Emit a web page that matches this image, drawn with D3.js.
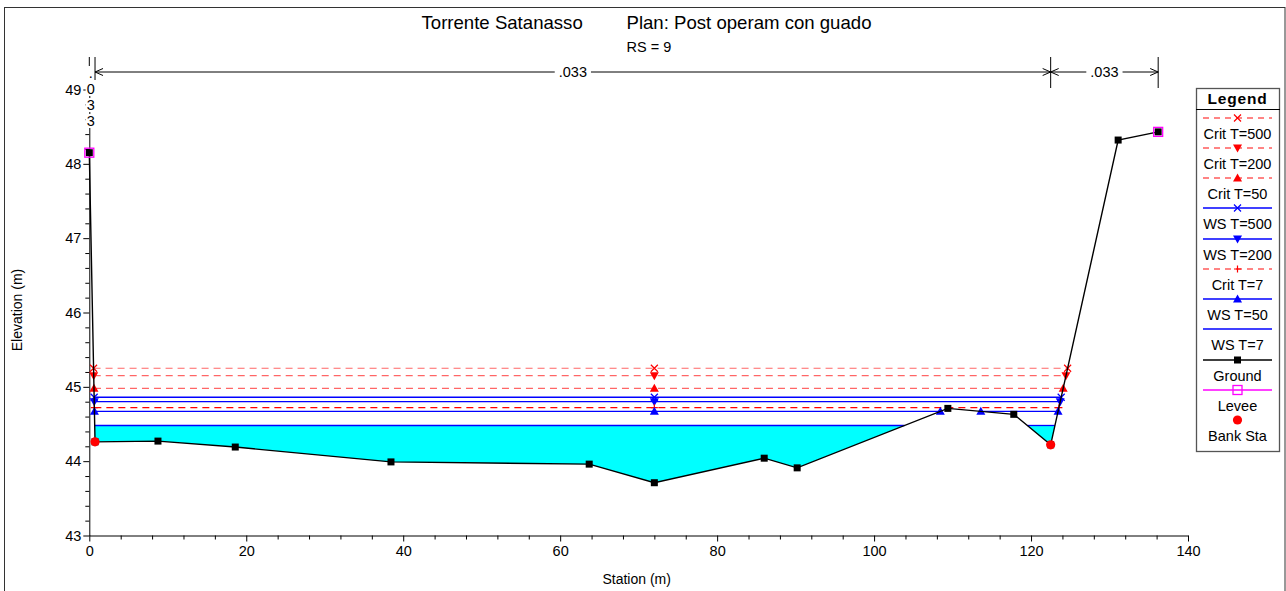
<!DOCTYPE html>
<html>
<head>
<meta charset="utf-8">
<script src="https://cdn.jsdelivr.net/npm/d3@7"></script>
<style>
  body { margin: 0; background: #fff; }
  svg { display: block; font-family: "Liberation Sans", Arial, sans-serif; }
</style>
</head>
<body>
<svg id="chart" width="1286" height="591"></svg>
<script>
// ---------------- DATA ----------------
const groundSta  = [0, 0.73, 8.75, 18.6, 38.44, 63.7, 72.0, 86.0, 90.2, 109.4, 117.8, 122.5, 131.1, 136.2];
const groundElev = [48.15, 44.26, 44.27, 44.19, 43.99, 43.96, 43.71, 44.04, 43.91, 44.71, 44.63, 44.22, 48.32, 48.43];

const leveeSta  = [0, 136.2];
const leveeElev = [48.15, 48.43];

const bankSta  = [0.73, 122.5];
const bankElev = [44.26, 44.22];

const profileNames  = ["Crit T=500", "Crit T=200", "Crit T=50", "WS T=500", "WS T=200", "Crit T=7", "WS T=50", "WS T=7"];
const profileLevels = [45.25, 45.15, 44.98, 44.86, 44.80, 44.72, 44.67, 44.48];
const profileKinds  = ["crit", "crit", "crit", "ws", "ws", "crit", "ws", "ws"];
const profileMarks  = ["x", "tdown", "tup", "x", "tdown", "plus", "tup", "none"];

const manningBreaks = [0, 0.73, 122.5, 136.2];
const manningValues = [".033", ".033", ".033"];

const xTicks = [0, 20, 40, 60, 80, 100, 120, 140];
const yTicks = [43, 44, 45, 46, 47, 48, 49];

const titleLeft  = "Torrente Satanasso";
const titleRight = "Plan: Post operam con guado";
const subTitle   = "RS = 9";
const xLabel = "Station (m)";
const yLabel = "Elevation (m)";

// ---------------- SETUP ----------------
const svg = d3.select("#chart");
const x = d3.scaleLinear().domain([0, 140]).range([89.3, 1188]);
const y = d3.scaleLinear().domain([43, 49]).range([535.5, 89.5]);

const RED = "#ff0000", BLUE = "#0000ff", MAG = "#ff00ff", CYAN = "#00ffff";

// outer frame
svg.append("rect").attr("x", 4.5).attr("y", 7.5).attr("width", 1280.5).attr("height", 590)
  .attr("fill", "none").attr("stroke", "#333").attr("stroke-width", 1);

// titles
svg.append("text").attr("x", 421.5).attr("y", 29).attr("font-size", 18.6).text(titleLeft);
svg.append("text").attr("x", 626.5).attr("y", 29).attr("font-size", 18.6).text(titleRight);
svg.append("text").attr("x", 626.5).attr("y", 52).attr("font-size", 14.5).text(subTitle);

// ground helpers
const ground = groundSta.map((s, i) => ({ s, e: groundElev[i] }));
function groundAt(s) {
  for (let i = 0; i < ground.length - 1; i++) {
    const a = ground[i], b = ground[i + 1];
    if (s >= a.s && s <= b.s) return a.e + (b.e - a.e) * (s - a.s) / (b.s - a.s);
  }
  return ground[ground.length - 1].e;
}
function segmentsAt(level) {
  const segs = [];
  let start = null;
  if (ground[0].e < level) start = ground[0].s;
  for (let i = 0; i < ground.length - 1; i++) {
    const a = ground[i], b = ground[i + 1];
    if (a.e >= level && b.e < level) {
      start = a.s + (level - a.e) / (b.e - a.e) * (b.s - a.s);
    } else if (a.e < level && b.e >= level) {
      const end = a.s + (level - a.e) / (b.e - a.e) * (b.s - a.s);
      segs.push([start, end]);
      start = null;
    }
  }
  return segs;
}
const thalwegSta = ground.reduce((m, p) => p.e < m.e ? p : m, ground[0]).s;

// ---------------- FILL (lowest water surface) ----------------
const fillLevel = profileLevels[profileLevels.length - 1];
const fillSegs = segmentsAt(fillLevel);
const fillPts = [];
const fs0 = fillSegs[0][0], fs1 = fillSegs[fillSegs.length - 1][1];
fillSegs.forEach(sg => { fillPts.push(sg[0], sg[1]); });
ground.forEach(p => { if (p.s > fs0 && p.s < fs1) fillPts.push(p.s); });
fillPts.sort((a, b) => a - b);
const area = d3.area()
  .x(d => x(d))
  .y0(d => y(groundAt(d)))
  .y1(d => y(Math.max(groundAt(d), fillLevel)));
svg.append("path").datum(fillPts).attr("d", area).attr("fill", CYAN).attr("stroke", "none");

// ---------------- AXES ----------------
const xMinor = d3.range(0, 141, 4).filter(v => v % 20 !== 0);
const yMinor = d3.range(43, 49.0001, 0.2).map(v => +v.toFixed(1)).filter(v => Math.abs(v - Math.round(v)) > 0.01);

svg.append("g").attr("transform", `translate(0,${y(43)})`)
  .call(d3.axisBottom(x).tickValues(xTicks).tickSize(6).tickSizeOuter(0).tickPadding(4).tickFormat(d3.format("d")));
svg.append("g").attr("transform", `translate(0,${y(43)})`)
  .call(d3.axisBottom(x).tickValues(xMinor).tickSize(4).tickSizeOuter(0).tickFormat(""))
  .select(".domain").remove();
svg.append("g").attr("transform", `translate(${x(0)},0)`)
  .call(d3.axisLeft(y).tickValues(yTicks).tickSize(6).tickSizeOuter(0).tickPadding(2).tickFormat(d3.format("d")));
svg.append("g").attr("transform", `translate(${x(0)},0)`)
  .call(d3.axisLeft(y).tickValues(yMinor).tickSize(4).tickSizeOuter(0).tickFormat(""))
  .select(".domain").remove();
svg.selectAll(".tick text").attr("font-size", 14.5).attr("fill", "#000")
  .attr("font-family", "'Liberation Sans', Arial, sans-serif");
svg.selectAll(".domain, .tick line").attr("stroke", "#000");

// axis titles
svg.append("text").attr("x", x(70) - 2).attr("y", 584).attr("text-anchor", "middle")
  .attr("font-size", 14).text(xLabel);
svg.append("text").attr("transform", "translate(22,310) rotate(-90)").attr("text-anchor", "middle")
  .attr("font-size", 14).text(yLabel);

// ---------------- MARKERS ----------------
function drawMarker(g, kind, cx, cy, color) {
  const s = 3.5;
  if (kind === "x") {
    g.append("path").attr("d", `M${cx - s},${cy - s}L${cx + s},${cy + s}M${cx - s},${cy + s}L${cx + s},${cy - s}`)
      .attr("stroke", color).attr("stroke-width", 1.2).attr("fill", "none");
  } else if (kind === "plus") {
    g.append("path").attr("d", `M${cx - s},${cy}L${cx + s},${cy}M${cx},${cy - s}L${cx},${cy + s}`)
      .attr("stroke", color).attr("stroke-width", 1.2).attr("fill", "none");
  } else if (kind === "tup") {
    g.append("path").attr("d", `M${cx - 4.5},${cy + 3.5}L${cx + 4.5},${cy + 3.5}L${cx},${cy - 4.5}Z`).attr("fill", color);
  } else if (kind === "tdown") {
    g.append("path").attr("d", `M${cx - 4.5},${cy - 3.5}L${cx + 4.5},${cy - 3.5}L${cx},${cy + 4.5}Z`).attr("fill", color);
  } else if (kind === "sq") {
    g.append("rect").attr("x", cx - 3.5).attr("y", cy - 3.5).attr("width", 7).attr("height", 7).attr("fill", "#000");
  } else if (kind === "osq") {
    g.append("rect").attr("x", cx - 4.5).attr("y", cy - 4.5).attr("width", 9).attr("height", 9)
      .attr("fill", "none").attr("stroke", MAG).attr("stroke-width", 1.3);
  } else if (kind === "dot") {
    g.append("circle").attr("cx", cx).attr("cy", cy).attr("r", 4.6).attr("fill", RED);
  }
}

// ---------------- PROFILE LINES ----------------
const gLines = svg.append("g");
const gMarks = svg.append("g");
profileLevels.forEach((lvl, i) => {
  const crit = profileKinds[i] === "crit";
  const color = crit ? RED : BLUE;
  const segs = segmentsAt(lvl);
  segs.forEach(sg => {
    gLines.append("line").attr("x1", x(sg[0])).attr("x2", x(sg[1])).attr("y1", y(lvl)).attr("y2", y(lvl))
      .attr("stroke", color).attr("stroke-width", crit ? 1.2 : 1.3)
      .attr("stroke-dasharray", crit ? "7,5" : null)
      .attr("stroke-opacity", crit && i < 3 ? 0.6 : 1);
  });
  if (profileMarks[i] !== "none") {
    const pts = [thalwegSta];
    segs.forEach(sg => pts.push(sg[0], sg[1]));
    pts.forEach(s => drawMarker(gMarks, profileMarks[i], x(s), y(lvl), color));
  }
});

// ---------------- GROUND ----------------
const line = d3.line().x(d => x(d.s)).y(d => y(d.e));
svg.append("path").datum(ground).attr("d", line).attr("fill", "none").attr("stroke", "#000").attr("stroke-width", 1.4);
const gGround = svg.append("g");
ground.forEach(p => drawMarker(gGround, "sq", x(p.s), y(p.e)));
leveeSta.forEach((s, i) => drawMarker(gGround, "osq", x(s), y(leveeElev[i])));
bankSta.forEach((s, i) => drawMarker(gGround, "dot", x(s), y(bankElev[i])));

// ---------------- MANNING N BRACKETS ----------------
const gN = svg.append("g");
const nY = 72, nTop = 57, nBot = 88;
manningBreaks.forEach(s => {
  gN.append("line").attr("x1", x(s)).attr("x2", x(s)).attr("y1", nTop).attr("y2", s === 0 || s === manningBreaks[1] ? 80 : nBot)
    .attr("stroke", "#000").attr("stroke-width", 1);
});
function whiteText(g, tx, ty, str) {
  const t = g.append("text").attr("x", tx).attr("y", ty).attr("text-anchor", "middle").attr("font-size", 14.5).text(str);
  const bb = t.node().getBBox();
  g.insert("rect", () => t.node()).attr("x", bb.x - 1).attr("y", bb.y + 1).attr("width", bb.width + 2).attr("height", bb.height - 2).attr("fill", "#fff");
  return bb;
}
manningValues.forEach((v, i) => {
  const a = x(manningBreaks[i]), b = x(manningBreaks[i + 1]);
  const mid = (a + b) / 2;
  if (b - a < 40) {
    // too narrow: stacked characters
    v.split("").forEach((ch, k) => whiteText(gN, mid - 1.5, 78 + k * 16, ch));
  } else {
    gN.append("path").attr("d",
      `M${a},${nY}L${b},${nY}M${a + 8},${nY - 3.5}L${a},${nY}L${a + 8},${nY + 3.5}M${b - 8},${nY - 3.5}L${b},${nY}L${b - 8},${nY + 3.5}`)
      .attr("fill", "none").attr("stroke", "#000").attr("stroke-width", 1);
    const t = gN.append("text").attr("x", mid).attr("y", nY + 5).attr("text-anchor", "middle").attr("font-size", 14.5).text(v);
    const bb = t.node().getBBox();
    gN.insert("rect", () => t.node()).attr("x", bb.x - 4).attr("y", nY - 3).attr("width", bb.width + 8).attr("height", 6).attr("fill", "#fff");
  }
});

// ---------------- LEGEND ----------------
const lg = svg.append("g");
const lx0 = 1196, lx1 = 1279, ly0 = 88, ly1 = 451;
const lcx = (lx0 + lx1) / 2;
lg.append("rect").attr("x", lx0 + 0.5).attr("y", ly0 + 0.5).attr("width", lx1 - lx0).attr("height", ly1 - ly0)
  .attr("fill", "#fff").attr("stroke", "#555").attr("stroke-width", 1.3);
lg.append("text").attr("x", lcx).attr("y", 103.5).attr("text-anchor", "middle").attr("font-size", 15.5)
  .attr("font-weight", "bold").attr("letter-spacing", 0.8).text("Legend");
lg.append("line").attr("x1", lx0).attr("x2", lx1 + 1).attr("y1", 109.5).attr("y2", 109.5).attr("stroke", "#000");

const legendItems = profileNames.map((n, i) => ({
  name: n, color: profileKinds[i] === "crit" ? RED : BLUE, dash: profileKinds[i] === "crit", mark: profileMarks[i]
})).concat([
  { name: "Ground", color: "#000", dash: false, mark: "sq" },
  { name: "Levee", color: MAG, dash: false, mark: "osq" },
  { name: "Bank Sta", color: null, dash: false, mark: "dot" }
]);
legendItems.forEach((it, i) => {
  const ly = Math.round(117.5 + i * 30.25);
  if (it.color) {
    lg.append("line").attr("x1", 1203).attr("x2", 1272).attr("y1", ly).attr("y2", ly)
      .attr("stroke", it.dash ? "#ff5c5c" : it.color).attr("stroke-width", it.dash ? 1.4 : 1.3)
      .attr("stroke-dasharray", it.dash ? "6,5" : null);
  }
  if (it.mark !== "none") drawMarker(lg, it.mark, lcx, ly, it.color || RED);
  lg.append("text").attr("x", lcx).attr("y", ly + 21).attr("text-anchor", "middle").attr("font-size", 14.5).text(it.name);
});
</script>
</body>
</html>
